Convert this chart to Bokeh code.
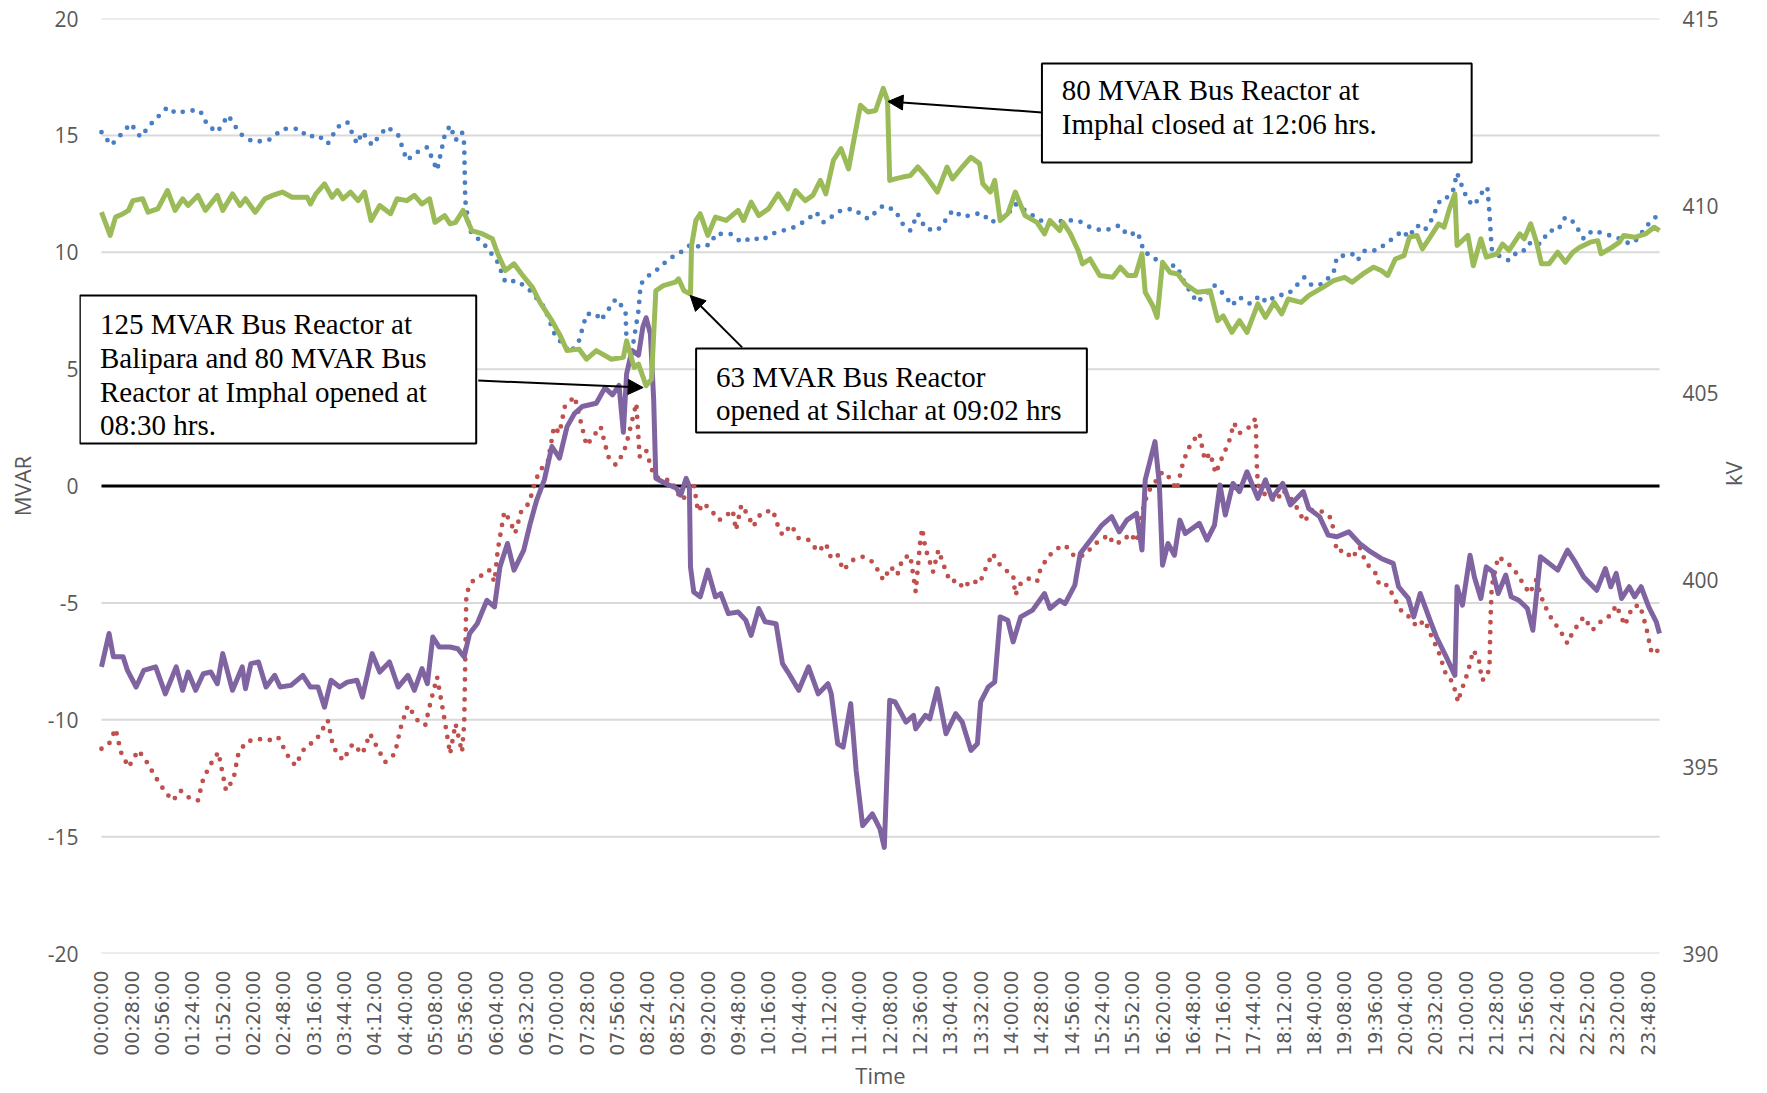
import math
from bokeh.plotting import figure
from bokeh.models import (Range1d, LinearAxis, FixedTicker, BoxAnnotation,
                          Label, Arrow, NormalHead)
from bokeh.embed import file_html
from bokeh.resources import INLINE

# ---------------- data (time in minutes since 00:00) ----------------
tick_labels = ["00:00:00", "00:28:00", "00:56:00", "01:24:00", "01:52:00", "02:20:00",
               "02:48:00", "03:16:00", "03:44:00", "04:12:00", "04:40:00", "05:08:00",
               "05:36:00", "06:04:00", "06:32:00", "07:00:00", "07:28:00", "07:56:00",
               "08:24:00", "08:52:00", "09:20:00", "09:48:00", "10:16:00", "10:44:00",
               "11:12:00", "11:40:00", "12:08:00", "12:36:00", "13:04:00", "13:32:00",
               "14:00:00", "14:28:00", "14:56:00", "15:24:00", "15:52:00", "16:20:00",
               "16:48:00", "17:16:00", "17:44:00", "18:12:00", "18:40:00", "19:08:00",
               "19:36:00", "20:04:00", "20:32:00", "21:00:00", "21:28:00", "21:56:00",
               "22:24:00", "22:52:00", "23:20:00", "23:48:00"]
mvar_ticks = [-20, -15, -10, -5, 0, 5, 10, 15, 20]
kv_ticks = [390, 395, 400, 405, 410, 415]
day_start, day_end = 0, 1439   # minutes shown on the time axis

# Voltage series (kV, right axis) - blue dotted
blue_t = [0, 9, 20, 27, 36, 46, 61, 69, 80, 91, 98, 107, 117, 128, 140, 154, 168, 183, 190,
          200, 209, 218, 227, 236, 241, 250, 257, 264, 274, 282, 292, 301, 310, 317, 322, 327,
          333, 335, 336, 340, 356, 366, 373, 384, 396, 409, 419, 433, 441, 448, 457, 461, 475,
          484, 485, 491, 496, 498, 507, 514, 524, 535, 545, 554, 563, 567, 581, 591, 602, 609,
          623, 637, 651, 660, 667, 683, 694, 708, 722, 733, 740, 747, 754, 761, 772, 782, 786,
          796, 807, 814, 821, 835, 844, 853, 867, 878, 892, 902, 913, 924, 933, 940, 948, 957,
          963, 970, 980, 993, 1001, 1012, 1028, 1038, 1044, 1051, 1061, 1070, 1076, 1085,
          1096, 1111, 1118, 1128, 1138, 1141, 1155, 1160, 1167, 1178, 1190, 1202, 1207, 1215,
          1222, 1228, 1237, 1243, 1248, 1252, 1255, 1262, 1268, 1274, 1280, 1282, 1284, 1292,
          1300, 1309, 1315, 1320, 1329, 1337, 1345, 1352, 1360, 1369, 1377, 1389, 1402, 1412,
          1419, 1426, 1432, 1439]
blue_kv = [411.96, 411.61, 411.96, 412.19, 411.83, 412.19, 412.63, 412.46, 412.54, 412.54,
           412.14, 411.96, 412.41, 411.92, 411.70, 411.74, 412.05, 412.05, 411.83, 411.88,
           411.65, 412.10, 412.23, 411.65, 411.96, 411.61, 411.88, 412.10, 411.88, 411.21,
           411.43, 411.56, 410.94, 411.88, 412.14, 411.74, 411.96, 411.65, 410.13, 409.33,
           408.88, 408.48, 407.95, 407.99, 407.72, 407.28, 406.52, 406.07, 406.38, 407.10,
           407.10, 406.92, 407.50, 407.19, 406.29, 406.29, 407.19, 407.90, 408.17, 408.30,
           408.57, 408.75, 408.97, 408.88, 408.97, 409.24, 409.24, 409.02, 409.15, 409.06,
           409.29, 409.38, 409.60, 409.82, 409.55, 409.87, 409.91, 409.64, 410.00, 409.87,
           409.51, 409.33, 409.78, 409.38, 409.33, 409.69, 409.87, 409.69, 409.78, 409.78,
           409.55, 409.69, 410.04, 409.87, 409.60, 409.55, 409.60, 409.60, 409.42, 409.33,
           409.38, 409.47, 409.20, 409.29, 408.75, 408.66, 408.39, 408.39, 407.90, 407.41,
           407.86, 407.59, 407.32, 407.55, 407.37, 407.59, 407.41, 407.59, 407.63, 408.08,
           407.86, 407.90, 408.21, 408.62, 408.71, 408.53, 408.80, 408.80, 409.06, 409.33,
           409.15, 409.47, 409.33, 409.60, 410.18, 410.22, 410.36, 410.87, 410.63, 410.13,
           410.00, 410.31, 410.49, 409.78, 408.84, 408.62, 408.53, 408.80, 408.80, 409.02,
           408.97, 409.33, 409.33, 409.69, 409.55, 409.11, 409.33, 409.24, 409.11, 408.97,
           409.11, 409.42, 409.60, 409.78]

# Voltage series (kV, right axis) - green solid
green_t = [0, 8, 13, 20, 25, 29, 38, 43, 52, 61, 68, 75, 80, 89, 96, 107, 112, 121, 128, 133,
           142, 151, 158, 167, 176, 190, 193, 198, 206, 213, 218, 223, 230, 237, 243, 249, 257,
           267, 273, 282, 289, 296, 303, 308, 317, 322, 327, 334, 342, 352, 361, 366, 373, 381,
           388, 398, 405, 416, 423, 430, 441, 448, 457, 471, 482, 485, 492, 496, 503, 508, 512,
           519, 530, 533, 538, 544, 545, 549, 553, 560, 567, 577, 588, 593, 600, 607, 616, 625,
           634, 641, 650, 657, 664, 669, 676, 683, 690, 696, 701, 708, 715, 722, 726, 728, 733,
           740, 747, 754, 761, 772, 781, 786, 795, 803, 811, 814, 821, 825, 830, 837, 844, 853,
           864, 871, 876, 885, 888, 895, 902, 906, 913, 922, 934, 941, 948, 955, 961, 964, 971,
           975, 980, 987, 994, 1001, 1012, 1024, 1031, 1036, 1044, 1051, 1058, 1068, 1075,
           1083, 1090, 1096, 1108, 1115, 1128, 1138, 1148, 1155, 1165, 1175, 1182, 1188, 1195,
           1203, 1208, 1215, 1220, 1227, 1235, 1240, 1245, 1250, 1252, 1262, 1267, 1274, 1279,
           1289, 1294, 1300, 1310, 1314, 1320, 1325, 1330, 1337, 1345, 1352, 1359, 1365, 1375,
           1382, 1385, 1395, 1402, 1406, 1416, 1426, 1434, 1439]
green_kv = [409.82, 409.20, 409.69, 409.78, 409.87, 410.13, 410.18, 409.82, 409.91, 410.40,
            409.87, 410.18, 410.00, 410.27, 409.87, 410.27, 409.87, 410.31, 410.00, 410.18,
            409.82, 410.18, 410.27, 410.36, 410.22, 410.22, 410.04, 410.31, 410.58, 410.22,
            410.40, 410.18, 410.36, 410.13, 410.36, 409.60, 410.00, 409.78, 410.18, 410.13,
            410.27, 410.04, 410.18, 409.55, 409.73, 409.51, 409.55, 409.87, 409.33, 409.24,
            409.11, 408.71, 408.26, 408.44, 408.17, 407.81, 407.41, 406.92, 406.56, 406.12,
            406.16, 405.89, 406.12, 405.89, 405.94, 406.38, 405.67, 405.76, 405.18, 405.36,
            407.72, 407.86, 407.95, 408.04, 407.72, 407.63, 408.93, 409.60, 409.78, 409.20,
            409.69, 409.60, 409.87, 409.60, 410.09, 409.73, 409.91, 410.31, 409.91, 410.40,
            410.13, 410.27, 410.67, 410.31, 411.21, 411.52, 410.98, 411.92, 412.68, 412.50,
            412.54, 413.13, 412.81, 410.67, 410.71, 410.76, 410.80, 411.03, 410.80, 410.36,
            411.03, 410.71, 411.03, 411.29, 411.12, 410.58, 410.36, 410.67, 409.60, 409.78,
            410.36, 409.73, 409.55, 409.24, 409.60, 409.33, 409.55, 409.24, 408.80, 408.44,
            408.57, 408.13, 408.08, 408.35, 408.13, 408.13, 408.71, 407.68, 407.32, 407.01,
            408.48, 408.21, 408.17, 407.90, 407.68, 407.72, 406.92, 407.05, 406.61, 406.92,
            406.61, 407.37, 407.01, 407.41, 407.10, 407.50, 407.41, 407.59, 407.81, 407.99,
            408.08, 407.95, 408.17, 408.35, 408.26, 408.13, 408.57, 408.66, 409.15, 409.20,
            408.84, 409.15, 409.51, 409.42, 409.91, 410.31, 408.93, 409.20, 408.39, 409.11,
            408.62, 408.71, 408.97, 408.80, 409.24, 409.11, 409.51, 409.06, 408.44, 408.44,
            408.75, 408.48, 408.75, 408.88, 409.02, 409.06, 408.71, 408.88, 409.02, 409.20,
            409.15, 409.24, 409.42, 409.33]

# Reactive power series (MVAR, left axis) - red dotted
red_t = [0, 7, 13, 18, 25, 34, 41, 50, 59, 66, 73, 80, 89, 94, 101, 108, 115, 122, 126, 133,
         144, 154, 163, 172, 179, 188, 198, 209, 214, 223, 232, 241, 248, 257, 262, 271, 276,
         283, 292, 299, 304, 310, 317, 322, 327, 333, 335, 336, 337, 342, 349, 358, 363, 366,
         372, 377, 382, 388, 395, 400, 405, 412, 418, 423, 428, 437, 448, 461, 468, 475, 482,
         485, 494, 497, 503, 507, 510, 517, 526, 531, 537, 542, 547, 551, 556, 563, 570, 574,
         583, 586, 591, 597, 602, 609, 620, 625, 629, 637, 644, 653, 662, 669, 674, 680, 685,
         694, 703, 712, 719, 722, 729, 735, 740, 747, 752, 756, 758, 761, 768, 773, 780, 784,
         791, 796, 803, 811, 816, 823, 830, 837, 842, 844, 849, 856, 864, 867, 874, 883, 890,
         899, 908, 915, 922, 931, 934, 943, 950, 956, 959, 963, 968, 980, 987, 993, 998, 1003,
         1009, 1014, 1019, 1024, 1029, 1036, 1041, 1046, 1051, 1056, 1061, 1066, 1067, 1068,
         1075, 1085, 1091, 1101, 1111, 1118, 1128, 1136, 1141, 1148, 1155, 1162, 1168, 1173,
         1178, 1180, 1188, 1195, 1202, 1208, 1215, 1222, 1228, 1235, 1242, 1248, 1253, 1255,
         1262, 1267, 1272, 1275, 1280, 1282, 1283, 1284, 1290, 1299, 1305, 1312, 1319, 1325,
         1332, 1340, 1347, 1354, 1359, 1369, 1377, 1386, 1394, 1399, 1407, 1414, 1421, 1427,
         1431, 1436, 1439]
red_mvar = [-11.24, -11.03, -10.39, -11.39, -12.03, -11.31, -11.74, -12.46, -13.10, -13.46,
            -13.03, -13.31, -13.46, -12.53, -11.89, -11.39, -13.03, -12.53, -11.53, -10.96,
            -10.81, -10.89, -10.74, -11.53, -11.96, -11.17, -10.89, -10.03, -11.17, -11.74,
            -11.03, -11.46, -10.60, -11.39, -11.81, -11.46, -10.39, -9.39, -10.03, -10.24,
            -9.24, -8.17, -10.03, -11.46, -10.17, -11.39, -10.17, -7.46, -4.60, -4.10, -3.89,
            -3.60, -4.10, -2.74, -1.10, -1.46, -2.03, -1.03, -0.74, 0.11, 0.69, 0.97, 2.54,
            2.26, 3.40, 3.83, 1.73, 2.54, 1.26, 0.90, 1.40, 1.83, 3.54, 1.26, 1.54, 0.90, 0.47,
            0.26, 0.26, -0.24, -0.60, -0.17, 0.11, -1.10, -0.74, -1.03, -1.46, -1.39, -1.03,
            -1.89, -0.81, -1.24, -1.74, -1.17, -1.03, -1.74, -2.10, -1.67, -2.24, -2.31, -2.81,
            -2.46, -3.10, -2.96, -3.60, -3.17, -3.03, -3.24, -3.74, -4.03, -3.46, -3.81, -3.10,
            -2.96, -4.53, -2.46, -1.81, -2.67, -3.67, -2.74, -3.67, -4.10, -4.03, -4.39, -4.03,
            -4.17, -3.60, -2.89, -3.39, -3.67, -3.81, -4.67, -4.17, -3.96, -4.10, -3.60, -3.03,
            -2.67, -2.53, -3.03, -2.96, -2.60, -2.31, -2.10, -2.46, -2.39, -2.03, -2.39, -1.74,
            -0.74, -0.17, 0.61, 0.33, -0.17, 0.83, 1.54, 1.97, 2.26, 1.11, 1.40, 0.54, 1.33,
            1.83, 2.69, 2.26, 2.40, 2.54, 2.90, 0.97, 0.04, -0.39, -0.67, -0.17, -0.67, -1.53,
            -1.03, -1.10, -1.39, -2.81, -2.74, -3.10, -2.60, -3.31, -3.53, -3.81, -4.24, -4.24,
            -4.89, -5.46, -5.60, -6.03, -5.74, -6.39, -7.10, -8.10, -8.39, -9.24, -8.89, -7.96,
            -7.03, -7.39, -8.31, -8.17, -7.60, -5.60, -4.31, -3.03, -3.31, -3.60, -4.10, -4.60,
            -4.03, -5.03, -5.74, -6.17, -6.74, -6.24, -5.60, -6.17, -5.74, -5.53, -5.10, -5.96,
            -5.17, -5.10, -6.10, -7.03, -6.89, -7.39]

# Reactive power series (MVAR, left axis) - purple solid
purple_t = [0, 7, 11, 20, 24, 32, 39, 50, 59, 69, 75, 80, 87, 94, 101, 107, 112, 121, 130,
            133, 138, 145, 152, 160, 165, 175, 186, 193, 200, 206, 212, 220, 227, 236, 241,
            250, 257, 266, 274, 283, 289, 296, 301, 306, 312, 322, 329, 335, 340, 347, 356,
            363, 368, 375, 381, 390, 396, 402, 409, 416, 423, 430, 437, 444, 457, 465, 472,
            478, 482, 485, 490, 496, 500, 503, 507, 510, 512, 521, 531, 535, 540, 543, 544,
            547, 553, 560, 567, 572, 579, 588, 595, 600, 607, 613, 623, 629, 634, 644, 653,
            662, 671, 674, 680, 685, 692, 697, 703, 712, 719, 723, 728, 733, 743, 750, 752,
            761, 765, 772, 780, 789, 795, 803, 809, 812, 819, 825, 830, 837, 842, 849, 860,
            871, 876, 885, 890, 899, 904, 911, 917, 924, 933, 940, 947, 956, 961, 964, 973,
            977, 980, 985, 991, 996, 1001, 1014, 1021, 1028, 1033, 1038, 1045, 1051, 1058,
            1068, 1075, 1081, 1091, 1098, 1110, 1115, 1125, 1133, 1141, 1152, 1162, 1172,
            1182, 1193, 1198, 1207, 1212, 1218, 1227, 1233, 1242, 1250, 1252, 1257, 1264,
            1268, 1274, 1279, 1285, 1290, 1297, 1302, 1309, 1317, 1322, 1329, 1335, 1345,
            1354, 1360, 1369, 1381, 1389, 1394, 1399, 1404, 1411, 1416, 1422, 1429, 1436, 1439]
purple_mvar = [-7.74, -6.31, -7.31, -7.31, -7.89, -8.60, -7.89, -7.74, -8.89, -7.74, -8.74,
               -7.96, -8.74, -8.03, -7.96, -8.46, -7.17, -8.74, -7.74, -8.67, -7.60, -7.53,
               -8.60, -8.10, -8.60, -8.53, -8.10, -8.60, -8.60, -9.46, -8.31, -8.60, -8.39,
               -8.31, -9.03, -7.17, -7.96, -7.53, -8.60, -8.10, -8.74, -7.81, -8.46, -6.46,
               -6.89, -6.89, -6.96, -7.31, -6.31, -5.89, -4.89, -5.17, -3.46, -2.46, -3.60,
               -2.74, -1.60, -0.60, 0.26, 1.69, 1.19, 2.54, 3.11, 3.40, 3.54, 4.20, 3.90, 4.30,
               2.30, 4.80, 5.80, 5.60, 6.80, 7.20, 6.50, 3.70, 0.33, 0.11, -0.10, -0.39, 0.33,
               -0.03, -3.46, -4.53, -4.74, -3.60, -4.74, -4.60, -5.46, -5.39, -5.74, -6.39,
               -5.24, -5.81, -5.89, -7.60, -7.96, -8.74, -7.74, -8.89, -8.46, -8.89, -11.03,
               -11.17, -9.31, -12.17, -14.53, -14.03, -14.67, -15.46, -9.17, -9.24, -10.10,
               -9.81, -10.39, -9.81, -9.96, -8.67, -10.60, -9.74, -10.10, -11.31, -11.03, -9.24,
               -8.60, -8.39, -5.60, -5.74, -6.67, -5.60, -5.31, -4.60, -5.24, -4.89, -5.03,
               -4.24, -2.89, -2.46, -2.10, -1.67, -1.31, -1.96, -1.46, -1.17, -2.74, 0.26, 1.90,
               0.11, -3.39, -2.46, -2.96, -1.46, -2.03, -1.60, -2.31, -1.67, 0.04, -1.24, 0.11,
               -0.24, 0.61, -0.53, 0.26, -0.53, 0.11, -0.81, -0.24, -0.96, -1.31, -2.10, -2.17,
               -1.96, -2.46, -2.81, -3.10, -3.31, -4.31, -4.81, -5.60, -4.60, -5.74, -6.46,
               -7.31, -8.10, -4.31, -5.10, -2.96, -3.89, -4.81, -3.46, -3.67, -4.60, -3.81,
               -4.74, -4.89, -5.24, -6.17, -3.03, -3.24, -3.60, -2.74, -3.17, -3.89, -4.46,
               -3.53, -4.31, -3.74, -4.81, -4.31, -4.74, -4.31, -5.17, -5.81, -6.31]


def hms_to_min(s):
    h, m, _ = s.split(":")
    return int(h) * 60 + int(m)


tick_minutes = [hms_to_min(s) for s in tick_labels]

# ---------------- figure ----------------
GRAY = "#595959"
TICK_FONT = "Open Sans"

# The plot area is a little wider than the time span, so that the
# annotation box on the left and the axis labels sit where the original has them;
# grid lines are drawn only over the time span, as in the original.
p = figure(width=1765, height=1092, output_backend="svg", toolbar_location=None,
           x_range=Range1d(-20.3, 1459.3), y_range=Range1d(-20, 20),
           min_border_left=79, min_border_right=83, min_border_top=18,
           min_border_bottom=139)
p.extra_y_ranges = {"kv": Range1d(390, 415)}
p.outline_line_color = None
p.background_fill_color = "white"
p.border_fill_color = "white"
p.xgrid.visible = False
p.ygrid.visible = False

grid_y = [t for t in mvar_ticks if t != 0]
p.segment(x0=[day_start] * len(grid_y), y0=grid_y, x1=[day_end] * len(grid_y), y1=grid_y,
          line_color="#D9D9D9", line_width=2)


def style_axis(ax):
    ax.axis_line_color = None
    ax.major_tick_line_color = None
    ax.minor_tick_line_color = None
    ax.major_tick_out = 0
    ax.major_tick_in = 0
    ax.major_label_text_color = GRAY
    ax.major_label_text_font = TICK_FONT
    ax.axis_label_text_color = GRAY
    ax.axis_label_text_font = TICK_FONT
    ax.axis_label_text_font_size = "22px"
    ax.axis_label_text_font_style = "normal"


# left axis
ly = p.yaxis[0]
style_axis(ly)
ly.ticker = FixedTicker(ticks=mvar_ticks)
ly.major_label_overrides = {t: str(t) for t in mvar_ticks}
ly.major_label_text_font_size = "21px"
ly.major_label_standoff = 1
ly.axis_label = "MVAR"
ly.axis_label_standoff = 8

# right axis
ry = LinearAxis(y_range_name="kv", ticker=FixedTicker(ticks=kv_ticks))
style_axis(ry)
ry.major_label_text_font_size = "21px"
ry.major_label_standoff = 1
ry.axis_label = "kV"
ry.axis_label_standoff = 11
ry.axis_label_orientation = math.pi / 2
p.add_layout(ry, "right")

# bottom axis
bx = p.xaxis[0]
style_axis(bx)
bx.ticker = FixedTicker(ticks=tick_minutes)
bx.major_label_overrides = {m: s for m, s in zip(tick_minutes, tick_labels)}
bx.major_label_orientation = math.pi / 2
bx.major_label_text_font = "DejaVu Sans"
bx.major_label_text_font_size = "19px"
bx.major_label_standoff = 17
bx.axis_label = "Time"
bx.axis_label_standoff = 1

# zero line over the time span
p.segment(x0=[day_start], y0=[0], x1=[day_end], y1=[0], line_color="black", line_width=3)

# series
p.line(red_t, red_mvar, line_color="#C0504D", line_width=4.8, line_dash="0 10",
       line_cap="round", line_join="round")
p.line(purple_t, purple_mvar, line_color="#8064A2", line_width=5, line_join="round")
p.line(blue_t, blue_kv, y_range_name="kv", line_color="#4A7EC4", line_width=4.8,
       line_dash="0 10", line_cap="round", line_join="round")
p.line(green_t, green_kv, y_range_name="kv", line_color="#9BBB59", line_width=5,
       line_join="round")

# ---------------- annotations ----------------
SERIF = "Liberation Serif"
boxes = [
    dict(left=868.6, right=1265.5, top=18.07, bottom=13.84),
    dict(left=-20.0, right=346.1, top=8.15, bottom=1.82),
    dict(left=549.2, right=910.1, top=5.88, bottom=2.29),
]
for b in boxes:
    p.add_layout(BoxAnnotation(fill_color="white", fill_alpha=1.0, line_color="black",
                               line_width=2, line_alpha=1.0, **b))

texts = [
    (887.0, 16.92, "80 MVAR Bus Reactor at"),
    (887.0, 15.47, "Imphal closed at 12:06 hrs."),
    (-1.4, 6.91, "125 MVAR Bus Reactor at"),
    (-1.4, 5.48, "Balipara and 80 MVAR Bus"),
    (-1.4, 4.04, "Reactor at Imphal opened at"),
    (-1.4, 2.63, "08:30 hrs."),
    (567.6, 4.68, "63 MVAR Bus Reactor"),
    (567.6, 3.27, "opened at Silchar at 09:02 hrs"),
]
for x, y, t in texts:
    p.add_layout(Label(x=x, y=y, text=t, text_font=SERIF, text_font_size="29px",
                       text_color="black", text_align="left", text_baseline="middle"))

arrows = [
    (868.6, 15.98, 726.4, 16.45),
    (591.7, 5.93, 543.7, 8.15),
    (348.0, 4.51, 500.3, 4.21),
]
for xs, ys, xe, ye in arrows:
    p.add_layout(Arrow(x_start=xs, y_start=ys, x_end=xe, y_end=ye, line_color="black",
                       line_width=2,
                       end=NormalHead(size=15, fill_color="black", line_color="black")))

open("out.html", "w").write(file_html(p, INLINE))
